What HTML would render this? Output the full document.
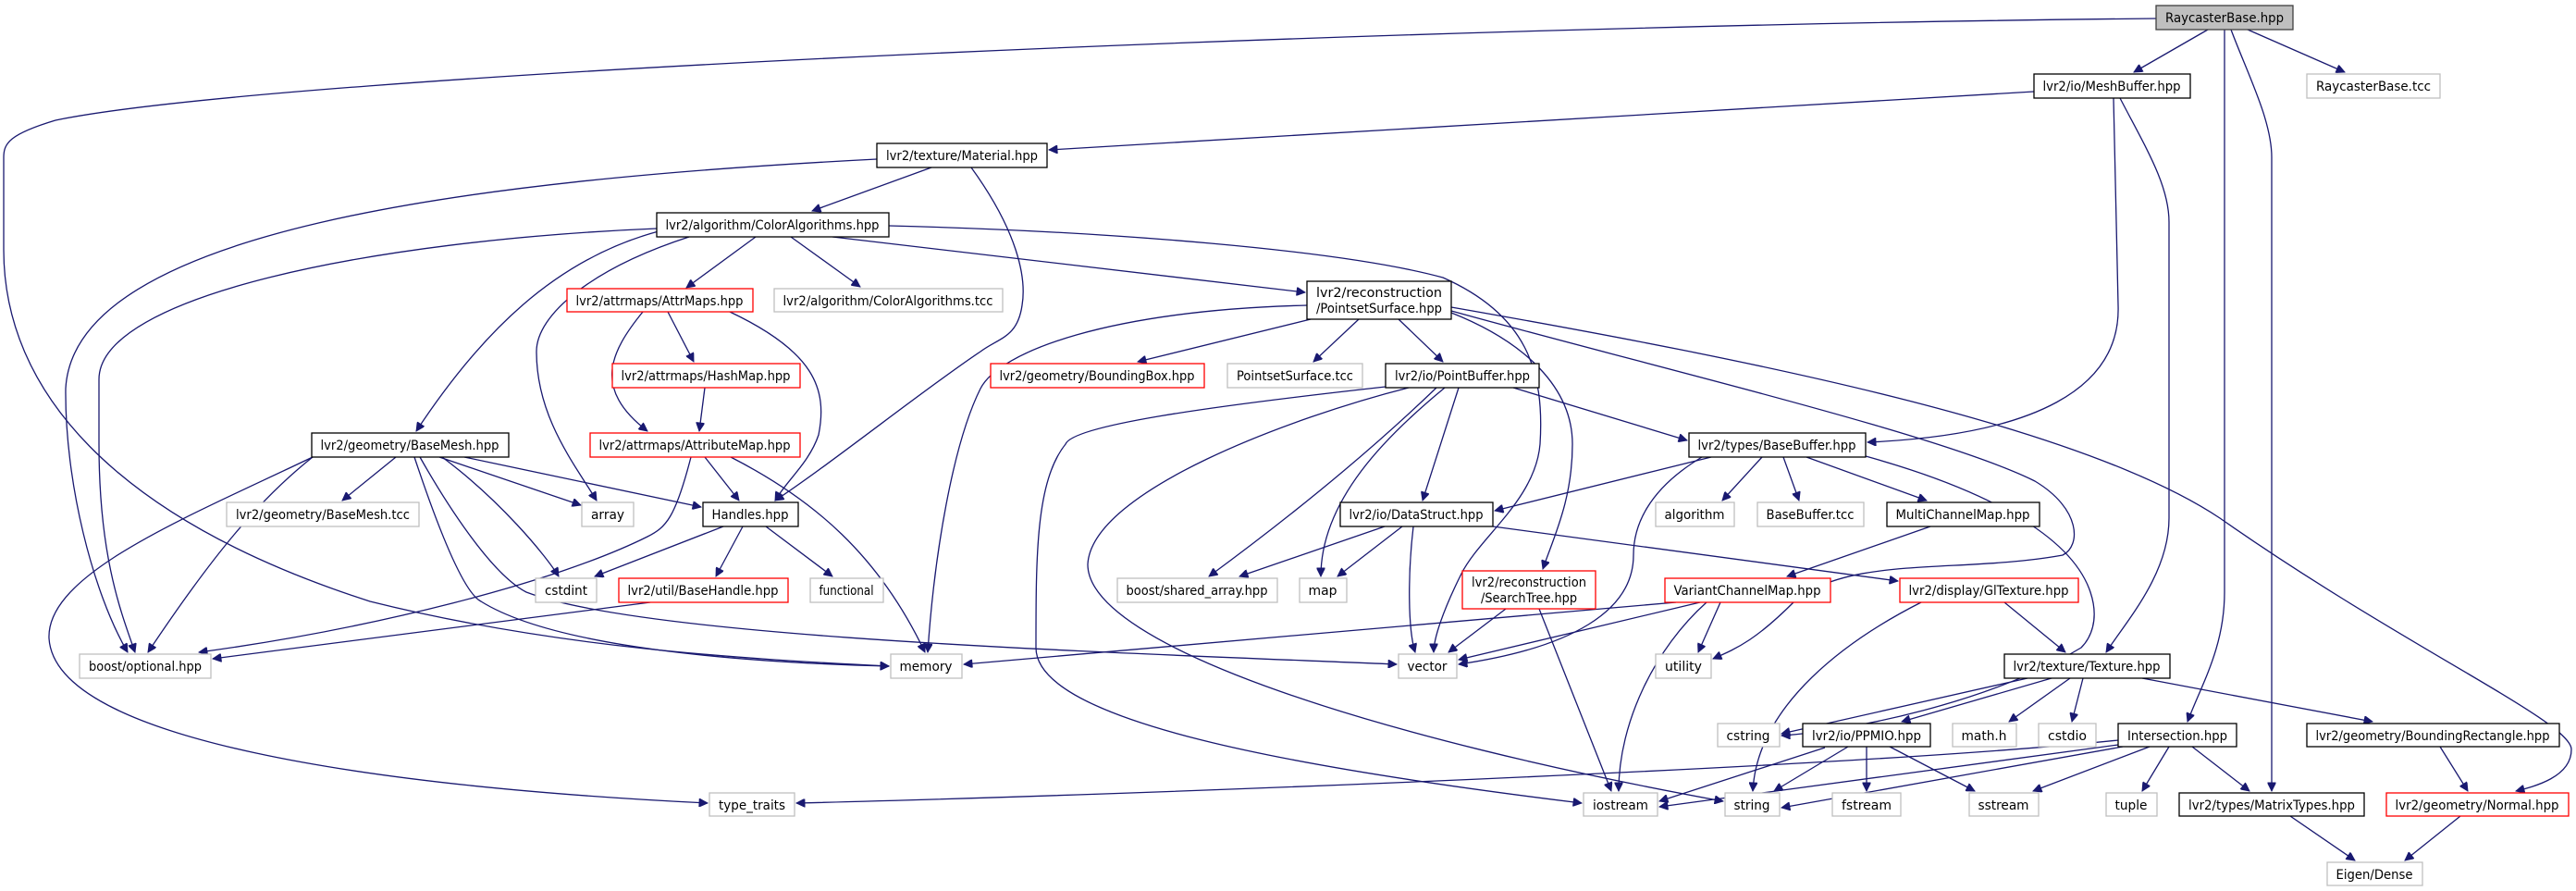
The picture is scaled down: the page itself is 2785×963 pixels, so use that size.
<!DOCTYPE html>
<html><head><meta charset="utf-8"><style>
html,body{margin:0;padding:0;background:#fff;}
svg{display:block;}
text{font-family:"DejaVu Sans","Liberation Sans",sans-serif;font-size:14px;fill:#000;}
.e{fill:none;stroke:#191970;stroke-width:1.3;}
.b{fill:#fff;stroke:#000;stroke-width:1.3;}
.r{fill:#fff;stroke:#ff0000;stroke-width:1.3;}
.g{fill:#fff;stroke:#bfbfbf;stroke-width:1.3;}
</style></head><body>
<svg width="2785" height="963" viewBox="0 0 2785 963" xmlns="http://www.w3.org/2000/svg">
<defs><marker id="a" viewBox="0 0 10 10" refX="10" refY="5" markerWidth="11" markerHeight="9" markerUnits="userSpaceOnUse" orient="auto"><path d="M0,0 L10,5 L0,10 z" fill="#191970" stroke="#191970"/></marker></defs>
<g marker-end="url(#a)">
<path class="e" d="M2387,32 L2307,78"/>
<path class="e" d="M2430,32 L2535,78"/>
<path class="e" d="M2405,32 L2405,640 C2405,700 2380,740 2365,780"/>
<path class="e" d="M2412,32 C2430,80 2456,130 2456,170 L2456,855"/>
<path class="e" d="M2331,20 C1500,28 300,80 60,130 C10,145 4,155 4,170 L4,270 C4,420 120,560 400,650 C600,700 800,712 961,720"/>
<path class="e" d="M2199,99 L1134,162"/>
<path class="e" d="M2285,106 L2290,330 C2293,420 2200,470 2019,478"/>
<path class="e" d="M2292,106 C2320,160 2345,200 2345,240 L2345,560 C2345,620 2300,670 2277,705"/>
<path class="e" d="M1007,181 L878,228"/>
<path class="e" d="M1050,181 C1100,250 1110,300 1105,330 C1100,365 1080,365 1060,380 C1000,420 900,500 838,541"/>
<path class="e" d="M948,172 C500,195 80,250 71,420 C70,520 100,640 138,705"/>
<path class="e" d="M710,247 C400,260 107,320 107,410 L107,480 C107,600 130,660 146,705"/>
<path class="e" d="M712,250 C600,280 520,360 450,466"/>
<path class="e" d="M745,256 C640,290 580,340 580,380 C580,450 620,500 645,541"/>
<path class="e" d="M817,256 L742,311"/>
<path class="e" d="M855,256 L930,310"/>
<path class="e" d="M900,256 L1411,316"/>
<path class="e" d="M961,244 C1200,250 1450,270 1560,300 C1650,340 1670,400 1665,480 C1660,540 1600,580 1580,620 C1560,660 1550,690 1550,705"/>
<path class="e" d="M722,337 L750,391"/>
<path class="e" d="M695,337 C660,380 640,420 700,466"/>
<path class="e" d="M789,337 C880,380 895,420 885,470 C875,500 850,520 838,541"/>
<path class="e" d="M762,419 L756,466"/>
<path class="e" d="M762,494 L799,541"/>
<path class="e" d="M790,494 C880,540 950,600 1000,705"/>
<path class="e" d="M747,494 C730,560 720,570 700,580 C600,630 400,680 215,705"/>
<path class="e" d="M428,494 L370,541"/>
<path class="e" d="M475,494 L628,546"/>
<path class="e" d="M502,494 L758,548"/>
<path class="e" d="M478,494 C540,540 590,600 604,623"/>
<path class="e" d="M338,494 C280,540 230,600 160,705"/>
<path class="e" d="M338,494 C200,560 50,620 53,690 C60,800 400,850 765,868"/>
<path class="e" d="M448,494 C470,560 500,640 520,650 C600,700 800,716 961,720"/>
<path class="e" d="M454,494 C480,540 530,620 569,640 C700,690 1200,705 1510,718"/>
<path class="e" d="M782,569 L643,623"/>
<path class="e" d="M803,569 L774,623"/>
<path class="e" d="M828,569 L900,623"/>
<path class="e" d="M703,651 L230,712"/>
<path class="e" d="M1413,330 C1200,335 1080,380 1060,420 C1030,480 1010,600 1003,705"/>
<path class="e" d="M1417,345 L1230,391"/>
<path class="e" d="M1469,345 L1420,391"/>
<path class="e" d="M1512,345 L1560,391"/>
<path class="e" d="M1569,338 C1650,370 1700,420 1700,480 C1700,540 1680,580 1668,615"/>
<path class="e" d="M1569,336 C1800,400 2100,470 2200,520 C2250,550 2250,590 2230,600 C2120,620 2000,600 1940,650 C1900,690 1880,700 1852,712"/>
<path class="e" d="M1569,332 C1900,390 2250,460 2400,560 C2600,700 2780,780 2780,810 C2780,840 2740,850 2720,855"/>
<path class="e" d="M1636,419 L1824,476"/>
<path class="e" d="M1577,419 L1538,541"/>
<path class="e" d="M1562,419 C1500,470 1428,540 1428,623"/>
<path class="e" d="M1553,419 C1500,470 1420,540 1307,623"/>
<path class="e" d="M1523,419 C1400,450 1180,530 1176,610 C1176,700 1500,800 1863,866"/>
<path class="e" d="M1498,418 C1300,440 1160,460 1152,480 C1120,520 1120,600 1120,700 C1120,780 1400,830 1710,868"/>
<path class="e" d="M1850,494 L1616,552"/>
<path class="e" d="M1905,494 L1862,541"/>
<path class="e" d="M1928,494 L1945,541"/>
<path class="e" d="M1953,494 L2083,541"/>
<path class="e" d="M1840,494 C1780,530 1766,570 1766,600 C1766,660 1700,700 1577,718"/>
<path class="e" d="M2017,493 C2150,530 2240,580 2260,640 C2270,670 2260,690 2250,700 C2150,760 2000,790 1926,795"/>
<path class="e" d="M1497,569 L1340,623"/>
<path class="e" d="M1516,569 L1446,623"/>
<path class="e" d="M1528,569 C1522,620 1522,680 1530,705"/>
<path class="e" d="M1614,569 L2052,628"/>
<path class="e" d="M2087,569 L1932,623"/>
<path class="e" d="M1812,651 L1042,718"/>
<path class="e" d="M1838,651 L1577,713"/>
<path class="e" d="M1860,651 L1836,705"/>
<path class="e" d="M1845,651 C1790,700 1750,780 1750,855"/>
<path class="e" d="M2167,651 L2233,705"/>
<path class="e" d="M2077,651 C2000,690 1900,760 1895,855"/>
<path class="e" d="M1628,658 L1566,705"/>
<path class="e" d="M1664,658 L1742,855"/>
<path class="e" d="M2192,733 L1926,793"/>
<path class="e" d="M2218,733 L2056,780"/>
<path class="e" d="M2238,733 L2172,780"/>
<path class="e" d="M2252,733 L2240,780"/>
<path class="e" d="M2316,733 L2565,780"/>
<path class="e" d="M1973,808 L1794,866"/>
<path class="e" d="M1998,807 L1918,855"/>
<path class="e" d="M2018,807 L2018,855"/>
<path class="e" d="M2043,807 L2135,855"/>
<path class="e" d="M2290,800 C2000,830 1200,860 861,868"/>
<path class="e" d="M2290,805 L1794,872"/>
<path class="e" d="M2295,807 L1926,873"/>
<path class="e" d="M2324,807 L2198,855"/>
<path class="e" d="M2345,807 L2316,855"/>
<path class="e" d="M2370,807 L2432,855"/>
<path class="e" d="M2638,807 L2668,855"/>
<path class="e" d="M2476,882 L2546,930"/>
<path class="e" d="M2660,882 L2600,930"/>
</g>
<g text-anchor="middle" lengthAdjust="spacingAndGlyphs">
<rect x="2331" y="6" width="148" height="26" fill="#bfbfbf" stroke="#404040" stroke-width="1.3"/><text x="2405" y="24" textLength="128" lengthAdjust="spacingAndGlyphs">RaycasterBase.hpp</text>
<rect class="b" x="2199" y="80" width="169" height="26"/><text x="2283" y="98" textLength="149" lengthAdjust="spacingAndGlyphs">lvr2/io/MeshBuffer.hpp</text>
<rect class="g" x="2494" y="80" width="144" height="26"/><text x="2566" y="98" textLength="124" lengthAdjust="spacingAndGlyphs">RaycasterBase.tcc</text>
<rect class="b" x="948" y="155" width="184" height="26"/><text x="1040" y="173" textLength="164" lengthAdjust="spacingAndGlyphs">lvr2/texture/Material.hpp</text>
<rect class="b" x="710" y="230" width="251" height="26"/><text x="835" y="248" textLength="231" lengthAdjust="spacingAndGlyphs">lvr2/algorithm/ColorAlgorithms.hpp</text>
<rect class="r" x="613" y="312" width="201" height="25"/><text x="713" y="330" textLength="181" lengthAdjust="spacingAndGlyphs">lvr2/attrmaps/AttrMaps.hpp</text>
<rect class="g" x="837" y="312" width="247" height="25"/><text x="960" y="330" textLength="227" lengthAdjust="spacingAndGlyphs">lvr2/algorithm/ColorAlgorithms.tcc</text>
<rect class="b" x="1413" y="304" width="156" height="41"/><text x="1491" y="321" textLength="136" lengthAdjust="spacingAndGlyphs">lvr2/reconstruction</text><text x="1491" y="338" textLength="136" lengthAdjust="spacingAndGlyphs">/PointsetSurface.hpp</text>
<rect class="r" x="662" y="393" width="203" height="26"/><text x="763" y="411" textLength="183" lengthAdjust="spacingAndGlyphs">lvr2/attrmaps/HashMap.hpp</text>
<rect class="r" x="1071" y="393" width="231" height="26"/><text x="1186" y="411" textLength="211" lengthAdjust="spacingAndGlyphs">lvr2/geometry/BoundingBox.hpp</text>
<rect class="g" x="1327" y="393" width="146" height="26"/><text x="1400" y="411" textLength="126" lengthAdjust="spacingAndGlyphs">PointsetSurface.tcc</text>
<rect class="b" x="1498" y="393" width="166" height="26"/><text x="1581" y="411" textLength="146" lengthAdjust="spacingAndGlyphs">lvr2/io/PointBuffer.hpp</text>
<rect class="b" x="337" y="468" width="213" height="26"/><text x="443" y="486" textLength="193" lengthAdjust="spacingAndGlyphs">lvr2/geometry/BaseMesh.hpp</text>
<rect class="r" x="638" y="468" width="227" height="26"/><text x="751" y="486" textLength="207" lengthAdjust="spacingAndGlyphs">lvr2/attrmaps/AttributeMap.hpp</text>
<rect class="b" x="1826" y="468" width="191" height="26"/><text x="1921" y="486" textLength="171" lengthAdjust="spacingAndGlyphs">lvr2/types/BaseBuffer.hpp</text>
<rect class="g" x="245" y="543" width="208" height="26"/><text x="349" y="561" textLength="188" lengthAdjust="spacingAndGlyphs">lvr2/geometry/BaseMesh.tcc</text>
<rect class="g" x="629" y="543" width="56" height="26"/><text x="657" y="561" textLength="36" lengthAdjust="spacingAndGlyphs">array</text>
<rect class="b" x="760" y="543" width="103" height="26"/><text x="811" y="561" textLength="83" lengthAdjust="spacingAndGlyphs">Handles.hpp</text>
<rect class="b" x="1449" y="543" width="165" height="26"/><text x="1531" y="561" textLength="145" lengthAdjust="spacingAndGlyphs">lvr2/io/DataStruct.hpp</text>
<rect class="g" x="1790" y="543" width="85" height="26"/><text x="1832" y="561" textLength="65" lengthAdjust="spacingAndGlyphs">algorithm</text>
<rect class="g" x="1900" y="543" width="115" height="26"/><text x="1957" y="561" textLength="95" lengthAdjust="spacingAndGlyphs">BaseBuffer.tcc</text>
<rect class="b" x="2040" y="543" width="165" height="26"/><text x="2122" y="561" textLength="145" lengthAdjust="spacingAndGlyphs">MultiChannelMap.hpp</text>
<rect class="g" x="579" y="625" width="66" height="26"/><text x="612" y="643" textLength="46" lengthAdjust="spacingAndGlyphs">cstdint</text>
<rect class="r" x="669" y="625" width="183" height="26"/><text x="760" y="643" textLength="163" lengthAdjust="spacingAndGlyphs">lvr2/util/BaseHandle.hpp</text>
<rect class="g" x="876" y="625" width="79" height="26"/><text x="915" y="643" textLength="59" lengthAdjust="spacingAndGlyphs">functional</text>
<rect class="g" x="1208" y="625" width="173" height="26"/><text x="1294" y="643" textLength="153" lengthAdjust="spacingAndGlyphs">boost/shared_array.hpp</text>
<rect class="g" x="1405" y="625" width="51" height="26"/><text x="1430" y="643" textLength="31" lengthAdjust="spacingAndGlyphs">map</text>
<rect class="r" x="1581" y="617" width="144" height="41"/><text x="1653" y="634" textLength="124" lengthAdjust="spacingAndGlyphs">lvr2/reconstruction</text><text x="1653" y="651" textLength="104" lengthAdjust="spacingAndGlyphs">/SearchTree.hpp</text>
<rect class="r" x="1800" y="625" width="179" height="26"/><text x="1889" y="643" textLength="159" lengthAdjust="spacingAndGlyphs">VariantChannelMap.hpp</text>
<rect class="r" x="2054" y="625" width="193" height="26"/><text x="2150" y="643" textLength="173" lengthAdjust="spacingAndGlyphs">lvr2/display/GlTexture.hpp</text>
<rect class="g" x="86" y="707" width="142" height="26"/><text x="157" y="725" textLength="122" lengthAdjust="spacingAndGlyphs">boost/optional.hpp</text>
<rect class="g" x="963" y="707" width="77" height="26"/><text x="1001" y="725" textLength="57" lengthAdjust="spacingAndGlyphs">memory</text>
<rect class="g" x="1512" y="707" width="63" height="26"/><text x="1543" y="725" textLength="43" lengthAdjust="spacingAndGlyphs">vector</text>
<rect class="g" x="1790" y="707" width="60" height="26"/><text x="1820" y="725" textLength="40" lengthAdjust="spacingAndGlyphs">utility</text>
<rect class="b" x="2167" y="707" width="179" height="26"/><text x="2256" y="725" textLength="159" lengthAdjust="spacingAndGlyphs">lvr2/texture/Texture.hpp</text>
<rect class="g" x="1857" y="782" width="67" height="25"/><text x="1890" y="800" textLength="47" lengthAdjust="spacingAndGlyphs">cstring</text>
<rect class="b" x="1949" y="782" width="138" height="25"/><text x="2018" y="800" textLength="118" lengthAdjust="spacingAndGlyphs">lvr2/io/PPMIO.hpp</text>
<rect class="g" x="2111" y="782" width="69" height="25"/><text x="2145" y="800" textLength="49" lengthAdjust="spacingAndGlyphs">math.h</text>
<rect class="g" x="2204" y="782" width="62" height="25"/><text x="2235" y="800" textLength="42" lengthAdjust="spacingAndGlyphs">cstdio</text>
<rect class="b" x="2290" y="782" width="128" height="25"/><text x="2354" y="800" textLength="108" lengthAdjust="spacingAndGlyphs">Intersection.hpp</text>
<rect class="b" x="2494" y="782" width="273" height="25"/><text x="2630" y="800" textLength="253" lengthAdjust="spacingAndGlyphs">lvr2/geometry/BoundingRectangle.hpp</text>
<rect class="g" x="767" y="857" width="92" height="25"/><text x="813" y="875" textLength="72" lengthAdjust="spacingAndGlyphs">type_traits</text>
<rect class="g" x="1712" y="857" width="80" height="25"/><text x="1752" y="875" textLength="60" lengthAdjust="spacingAndGlyphs">iostream</text>
<rect class="g" x="1865" y="857" width="59" height="25"/><text x="1894" y="875" textLength="39" lengthAdjust="spacingAndGlyphs">string</text>
<rect class="g" x="1981" y="857" width="74" height="25"/><text x="2018" y="875" textLength="54" lengthAdjust="spacingAndGlyphs">fstream</text>
<rect class="g" x="2129" y="857" width="75" height="25"/><text x="2166" y="875" textLength="55" lengthAdjust="spacingAndGlyphs">sstream</text>
<rect class="g" x="2277" y="857" width="55" height="25"/><text x="2304" y="875" textLength="35" lengthAdjust="spacingAndGlyphs">tuple</text>
<rect class="b" x="2356" y="857" width="200" height="25"/><text x="2456" y="875" textLength="180" lengthAdjust="spacingAndGlyphs">lvr2/types/MatrixTypes.hpp</text>
<rect class="r" x="2580" y="857" width="197" height="25"/><text x="2678" y="875" textLength="177" lengthAdjust="spacingAndGlyphs">lvr2/geometry/Normal.hpp</text>
<rect class="g" x="2516" y="932" width="103" height="25"/><text x="2567" y="950" textLength="83" lengthAdjust="spacingAndGlyphs">Eigen/Dense</text>
</g>
</svg>
</body></html>
